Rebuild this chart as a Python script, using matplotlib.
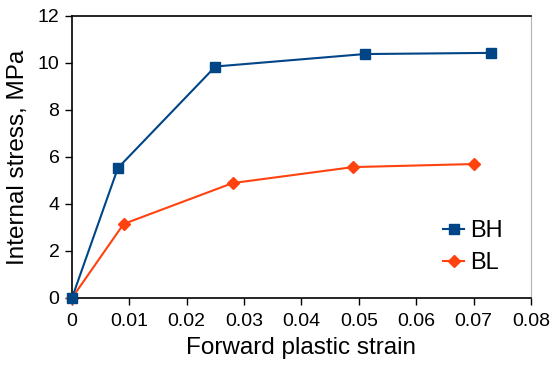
import matplotlib.pyplot as plt

plt.rcParams['font.family'] = ['Liberation Sans', 'DejaVu Sans']

bh_strain = [0.0, 0.008, 0.025, 0.051, 0.073]
bh_stress = [0.0, 5.53, 9.85, 10.38, 10.43]
bl_strain = [0.0, 0.009, 0.028, 0.049, 0.070]
bl_stress = [0.0, 3.15, 4.89, 5.57, 5.70]
xticks = [0, 0.01, 0.02, 0.03, 0.04, 0.05, 0.06, 0.07, 0.08]
xlabels = ["0", "0.01", "0.02", "0.03", "0.04", "0.05", "0.06", "0.07", "0.08"]
yticks = [0, 2, 4, 6, 8, 10, 12]

fig = plt.figure(figsize=(5.52, 3.65), dpi=100)
ax = fig.add_axes([0.1304, 0.1836, 0.8315, 0.7726])

ax.plot(bh_strain, bh_stress, color="#004586", marker="s", markersize=7,
        linewidth=1.5, label="BH", clip_on=False, zorder=3)
ax.plot(bl_strain, bl_stress, color="#ff420e", marker="D", markersize=6,
        linewidth=1.5, label="BL", clip_on=False, zorder=2)

ax.set_xlim(0, 0.08)
ax.set_ylim(0, 12)
ax.set_xticks(xticks)
ax.set_xticklabels(xlabels)
ax.set_yticks(yticks)
ax.tick_params(labelsize=14, direction="out", length=5, width=1)
ax.tick_params(axis="x", pad=6)
ax.tick_params(axis="y", pad=4)
ax.set_xlabel("Forward plastic strain", fontsize=17.5, labelpad=5)
ax.set_ylabel("Internal stress, MPa", fontsize=17.5, labelpad=6)

for side in ["left", "bottom", "top"]:
    ax.spines[side].set_linewidth(1.2)
ax.spines["right"].set_color("#b3b3b3")

ax.legend(loc="lower right", bbox_to_anchor=(0.985, 0.01), frameon=False,
          fontsize=17, handlelength=0.9, handletextpad=0.25, labelspacing=0.4)

fig.savefig("out.png", dpi=100)
